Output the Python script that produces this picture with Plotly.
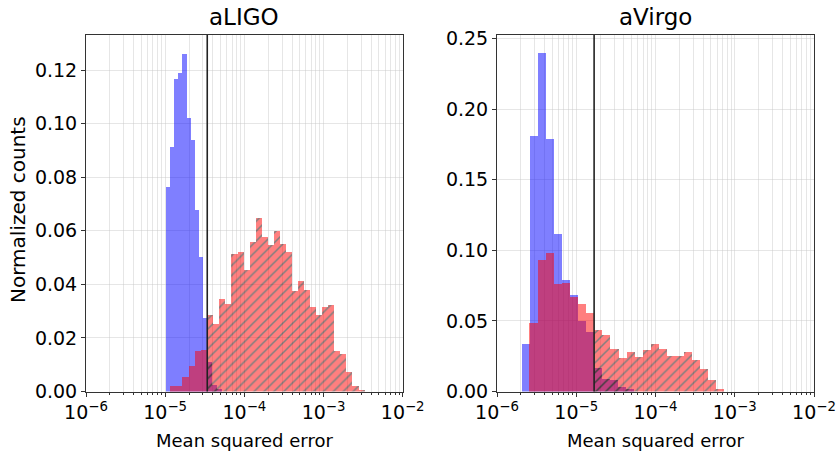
import numpy as np
import plotly.graph_objects as go

# ---------------- data ----------------
# Each histogram: lower edge, upper edge (MSE values) and normalized counts per log-spaced bin.
aligo_threshold = 3.4e-5
avirgo_threshold = 1.68e-5

# aLIGO, blue population
aligo_blue_below_range = (1.02e-5, aligo_threshold)
aligo_blue_below = [0.0765, 0.0913, 0.1165, 0.119, 0.126, 0.102, 0.094, 0.0677, 0.0503, 0.0275]
aligo_blue_above_range = (aligo_threshold, 5.2e-5)
aligo_blue_above = [0.011, 0.0025, 0.0008]

# aLIGO, red population
aligo_red_below_range = (1.15e-5, aligo_threshold)
aligo_red_below = [0.002, 0.002, 0.0053, 0.0097, 0.0153, 0.0155]
aligo_red_above_range = (aligo_threshold, 3.3e-3)
aligo_red_above = [0.0284, 0.0253, 0.0347, 0.0328, 0.0512, 0.0521, 0.0452, 0.0558, 0.0646,
                   0.0577, 0.0546, 0.0598, 0.0550, 0.0521, 0.0374, 0.0412, 0.0378, 0.0315,
                   0.0284, 0.0315, 0.0324, 0.0153, 0.0141, 0.0072, 0.0022, 0.0006]

# aVirgo, blue population
avirgo_blue_below_range = (2.07e-6, avirgo_threshold)
avirgo_blue_below = [0.0333, 0.1813, 0.240, 0.179, 0.1118, 0.0787, 0.068, 0.050, 0.042]
avirgo_blue_above_range = (avirgo_threshold, 5.3e-5)
avirgo_blue_above = [0.017, 0.0092, 0.0085, 0.0035, 0.002]

# aVirgo, red population
avirgo_red_below_range = (2.57e-6, avirgo_threshold)
avirgo_red_below = [0.0484, 0.0929, 0.0981, 0.0759, 0.0768, 0.0669, 0.0617, 0.0555]
avirgo_red_above_range = (avirgo_threshold, 7.4e-4)
avirgo_red_above = [0.0437, 0.0400, 0.0300, 0.0239, 0.0283, 0.0246, 0.0296, 0.0333, 0.0300,
                    0.0251, 0.0251, 0.0281, 0.0222, 0.0158, 0.0080, 0.0015]

x_tick_exponents = [-6, -5, -4, -3, -2]
aligo_y_ticks = [0.00, 0.02, 0.04, 0.06, 0.08, 0.10, 0.12]
avirgo_y_ticks = [0.00, 0.05, 0.10, 0.15, 0.20, 0.25]

# ---------------- figure ----------------
FONT = "DejaVu Sans"
BLUE = "rgb(0,0,255)"
RED = "rgb(255,0,0)"
GRID = "rgba(200,200,200,0.45)"
AXIS = "#333"
TICK_SIZE = 19


def hist_trace(rng, counts, color, hatched, xaxis, yaxis):
    """Bars on a log10 x scale: each bin spans equal width in log space."""
    n = len(counts)
    step = (np.log10(rng[1]) - np.log10(rng[0])) / n
    edges = np.log10(rng[0]) + step * np.arange(n + 1)
    centers = 0.5 * (edges[:-1] + edges[1:])
    marker = dict(color=color, line=dict(width=0))
    if hatched:
        marker["pattern"] = dict(shape="/", fgcolor="black", fgopacity=1, size=7,
                                 solidity=0.22, fillmode="overlay")
    return go.Bar(x=centers, y=counts, width=np.full(n, step), marker=marker,
                  opacity=0.5, xaxis=xaxis, yaxis=yaxis, showlegend=False,
                  hoverinfo="skip")


fig = go.Figure()
panels = [
    ("x", "y", [(aligo_blue_below_range, aligo_blue_below, BLUE, False),
                (aligo_blue_above_range, aligo_blue_above, BLUE, True),
                (aligo_red_below_range, aligo_red_below, RED, False),
                (aligo_red_above_range, aligo_red_above, RED, True)]),
    ("x2", "y2", [(avirgo_blue_below_range, avirgo_blue_below, BLUE, False),
                  (avirgo_blue_above_range, avirgo_blue_above, BLUE, True),
                  (avirgo_red_below_range, avirgo_red_below, RED, False),
                  (avirgo_red_above_range, avirgo_red_above, RED, True)]),
]
for xa, ya, series in panels:
    for rng, counts, color, hatched in series:
        fig.add_trace(hist_trace(rng, counts, color, hatched, xa, ya))

minor_vals = [np.log10(k * 10.0 ** e) for e in x_tick_exponents[:-1] for k in range(2, 10)]
tick_text = ["10<sup>\u2212%d</sup>" % (-e) for e in x_tick_exponents]

W, H = 837, 452
dom_y = [1 - 391.5 / H, 1 - 35 / H]
dom_x1 = [86 / W, 402.7 / W]
dom_x2 = [497 / W, 814 / W]


def xaxis_cfg(dom, anchor):
    return dict(domain=dom, anchor=anchor, range=[-6, -2], tickmode="array",
                tickvals=x_tick_exponents, ticktext=tick_text, showgrid=True,
                gridcolor=GRID, gridwidth=1, zeroline=False, showline=True,
                linecolor=AXIS, linewidth=1, mirror=True, ticks="outside",
                ticklen=4, tickcolor=AXIS, automargin=False,
                tickfont=dict(family=FONT, size=TICK_SIZE, color="black"),
                minor=dict(tickmode="array", tickvals=minor_vals, showgrid=True,
                           gridcolor=GRID, ticks="outside", ticklen=2, tickcolor=AXIS))


def yaxis_cfg(dom, anchor, top, ticks):
    return dict(domain=dom, anchor=anchor, range=[0, top], tickmode="array",
                tickvals=ticks, ticktext=["%.2f" % t for t in ticks], showgrid=True,
                gridcolor=GRID, zeroline=False, showline=True, linecolor=AXIS,
                linewidth=1, mirror=True, ticks="outside", ticklen=4, tickcolor=AXIS,
                automargin=False, tickfont=dict(family=FONT, size=TICK_SIZE, color="black"))


fig.update_layout(
    width=W, height=H, margin=dict(l=0, r=0, t=0, b=0, autoexpand=False),
    paper_bgcolor="white", plot_bgcolor="white", barmode="overlay", bargap=0,
    xaxis=xaxis_cfg(dom_x1, "y"), yaxis=yaxis_cfg(dom_y, "x", 0.1331, aligo_y_ticks),
    xaxis2=xaxis_cfg(dom_x2, "y2"), yaxis2=yaxis_cfg(dom_y, "x2", 0.2525, avirgo_y_ticks),
    font=dict(family=FONT, color="black"),
)

# decision thresholds
for xa, ya, thr in (("x", "y", aligo_threshold), ("x2", "y2", avirgo_threshold)):
    fig.add_shape(type="line", xref=xa, yref=ya + " domain",
                  x0=np.log10(thr), x1=np.log10(thr), y0=0, y1=1,
                  line=dict(color="#222", width=1.6), layer="above")


def label(text, x, y, size, angle=0):
    fig.add_annotation(text=text, x=x, y=y, xref="paper", yref="paper",
                       xanchor="center", yanchor="middle", showarrow=False,
                       textangle=angle, font=dict(family=FONT, size=size, color="black"))


label("aLIGO", sum(dom_x1) / 2, 1 - 17 / H, 23)
label("aVirgo", sum(dom_x2) / 2, 1 - 17 / H, 23)
for dom in (dom_x1, dom_x2):
    label("Mean squared error", sum(dom) / 2, 1 - 440 / H, 18)
label("Normalized counts", 18 / W, 1 - 210 / H, 20, angle=-90)

fig.write_html("out.html")
